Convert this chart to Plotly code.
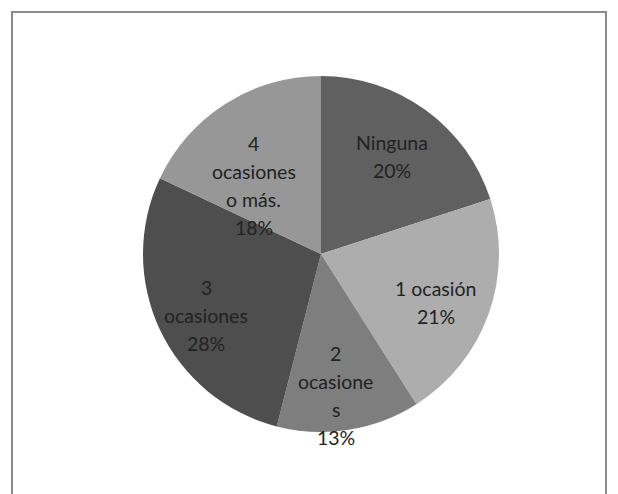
import math
import plotly.graph_objects as go

# ---- data ----
categories = ["Ninguna", "1 ocasión", "2 ocasiones", "3 ocasiones", "4 ocasiones o más."]
values = [20, 21, 13, 28, 18]
label_lines = [
    ["Ninguna"],
    ["1 ocasión"],
    ["2", "ocasione", "s"],
    ["3", "ocasiones"],
    ["4", "ocasiones", "o más."],
]
colors = ["#606060", "#adadad", "#7e7e7e", "#4e4e4e", "#979797"]

# ---- layout geometry (pixels, page coordinates) ----
W, H = 618, 494
OFF = 8  # default page margin of the html body
CX, CY, R = 321 - OFF, 254 - OFF, 178
label_radius = [0.68, 0.70, 0.80, 0.73, 0.54]
label_angle_shift = [0, 3, 3, -3, -12]
line_gap = 28
FONT = "Lato, 'Open Sans', sans-serif"
FONT_SIZE = 19.5

fig = go.Figure(go.Pie(
    labels=categories,
    values=values,
    sort=False,
    direction="clockwise",
    rotation=0,
    marker=dict(colors=colors, line=dict(width=0)),
    textinfo="none",
    hoverinfo="label+percent",
    showlegend=False,
    domain=dict(x=[(CX - R) / W, (CX + R) / W],
                y=[(H - CY - R) / H, (H - CY + R) / H]),
))

total = sum(values)
annotations = []
cum = 0
for i, v in enumerate(values):
    mid = (cum + v / 2) / total * 360 + label_angle_shift[i]
    cum += v
    rad = math.radians(mid)
    px = CX + label_radius[i] * R * math.sin(rad)
    py = CY - label_radius[i] * R * math.cos(rad)
    pct = f"{round(v / total * 100)}%"
    lines = label_lines[i] + [pct]
    n = len(lines)
    for j, t in enumerate(lines):
        ly = py + (j - (n - 1) / 2) * line_gap
        annotations.append(dict(
            x=px / W, y=1 - ly / H, xref="paper", yref="paper",
            text=t, showarrow=False, xanchor="center", yanchor="middle",
            font=dict(family=FONT, size=FONT_SIZE, color="#222222"),
        ))

bx0, by0, bx1 = 12 - OFF, 12 - OFF, 606 - OFF
fig.update_layout(
    width=W, height=H,
    margin=dict(l=0, r=0, t=0, b=0),
    paper_bgcolor="white", plot_bgcolor="white",
    annotations=annotations,
    shapes=[dict(type="rect", xref="paper", yref="paper",
                 x0=bx0 / W, x1=bx1 / W, y0=-0.05, y1=1 - by0 / H,
                 line=dict(color="#8c8c8c", width=2), layer="below")],
)

fig.write_html("out.html")
